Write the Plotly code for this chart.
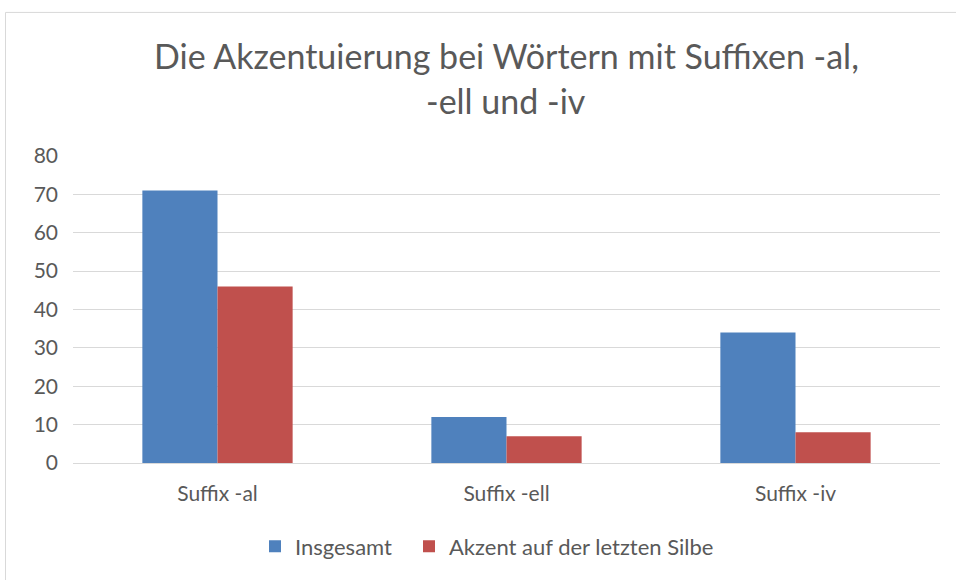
import plotly.graph_objects as go

categories = ["Suffix -al", "Suffix -ell", "Suffix -iv"]
insgesamt = [71, 12, 34]
akzent = [46, 7, 8]
series_names = ["Insgesamt", "Akzent auf der letzten Silbe"]
title_lines = ["Die Akzentuierung bei Wörtern mit Suffixen -al,", "-ell und -iv"]

FONT = "Lato"
GRAY = "#595959"

W, H = 956, 580
L, T = 73, 156
PW, PH = 867, 309

fig = go.Figure()
fig.add_trace(go.Bar(x=categories, y=insgesamt, name=series_names[0],
                     marker=dict(color="#4F81BD", line=dict(width=0)), legend="legend"))
fig.add_trace(go.Bar(x=categories, y=akzent, name=series_names[1],
                     marker=dict(color="#C0504D", line=dict(width=0)), legend="legend2"))

leg_common = dict(orientation="h", yanchor="middle", xanchor="left",
                  y=(465 - 549) / PH, font=dict(size=22, color=GRAY), itemwidth=30,
                  bgcolor="rgba(0,0,0,0)")

fig.update_layout(
    width=W, height=H,
    margin=dict(l=L, r=W - L - PW, t=T, b=H - T - PH),
    paper_bgcolor="white", plot_bgcolor="white",
    barmode="group", bargap=0.48, bargroupgap=0,
    font=dict(family=FONT, color=GRAY, size=21),
    showlegend=True,
    legend=dict(x=(255 - 73) / PW, **leg_common),
    legend2=dict(x=(409 - 73) / PW, **leg_common),
    xaxis=dict(showgrid=False, showline=True, linecolor="#D9D9D9", linewidth=1,
               ticks="", tickfont=dict(size=21, color=GRAY), ticklabelstandoff=12),
    yaxis=dict(range=[0, 80], dtick=10, showgrid=True, gridcolor="#D9D9D9", gridwidth=1,
               zeroline=False, showline=False, ticks="",
               tickfont=dict(size=21, color=GRAY), ticklabelstandoff=14),
)

for line, ypx in zip(title_lines, [55, 100]):
    fig.add_annotation(text=line, xref="paper", yref="paper",
                       x=(506 - 73) / PW, y=(465 - ypx) / PH,
                       xanchor="center", yanchor="middle", showarrow=False,
                       font=dict(family=FONT, size=34, color=GRAY))

fig.add_shape(type="rect", xref="paper", yref="paper",
              x0=(5.5 - 73) / PW, x1=1.2, y0=-1.0, y1=(465 - 11.5) / PH,
              line=dict(color="#D9D9D9", width=1), fillcolor="rgba(0,0,0,0)", layer="below")

fig.write_html("out.html", config={"displayModeBar": False},
               post_script="document.body.style.margin='0';document.body.style.overflow='hidden';")
